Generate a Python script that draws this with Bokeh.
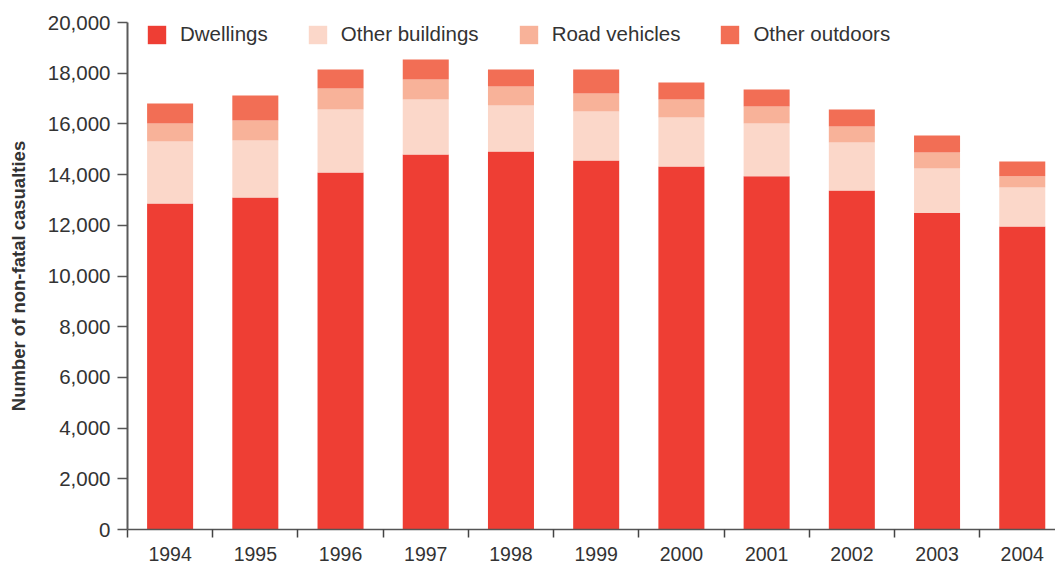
from bokeh.plotting import figure
from bokeh.models import (ColumnDataSource, Range1d, LinearAxis, FixedTicker,
                          NumeralTickFormatter, Legend, LegendItem)
from bokeh.embed import file_html
from bokeh.resources import INLINE

years = ["1994", "1995", "1996", "1997", "1998", "1999", "2000", "2001", "2002", "2003", "2004"]
dwellings = [12860, 13100, 14080, 14790, 14910, 14560, 14320, 13930, 13370, 12500, 11950]
other_buildings = [2450, 2250, 2490, 2170, 1820, 1930, 1930, 2090, 1900, 1740, 1540]
road_vehicles = [710, 780, 830, 790, 750, 710, 710, 670, 630, 630, 440]
other_outdoors = [780, 990, 750, 790, 670, 950, 670, 670, 670, 670, 590]

series = ["dwellings", "other_buildings", "road_vehicles", "other_outdoors"]
labels = ["Dwellings", "Other buildings", "Road vehicles", "Other outdoors"]
colors = ["#EE3E34", "#FBD7C9", "#F8B299", "#F26E55"]

centers = [i + 0.5 for i in range(len(years))]
source = ColumnDataSource(dict(x=centers, dwellings=dwellings, other_buildings=other_buildings,
                               road_vehicles=road_vehicles, other_outdoors=other_outdoors))

FONT = "Liberation Sans"
TXT = "#333333"

p = figure(width=1055, height=563, output_backend="svg", toolbar_location=None,
           x_range=Range1d(0, 10.89), y_range=Range1d(0, 20000),
           x_axis_type=None, y_axis_type=None,
           min_border_left=127, min_border_top=22, min_border_right=0, min_border_bottom=32)
p.outline_line_color = None
p.xgrid.visible = False
p.ygrid.visible = False

renderers = p.vbar_stack(series, x="x", width=0.54, source=source, color=colors,
                         line_color=None, line_width=0)

# y axis
yaxis = LinearAxis(ticker=FixedTicker(ticks=list(range(0, 20001, 2000)), minor_ticks=[]),
                   formatter=NumeralTickFormatter(format="0,0"))
yaxis.axis_label = "Number of non-fatal casualties"
yaxis.axis_label_text_font = FONT
yaxis.axis_label_text_font_style = "bold"
yaxis.axis_label_text_font_size = "18.5px"
yaxis.axis_label_text_color = TXT
yaxis.axis_label_standoff = 16
yaxis.major_label_text_font = FONT
yaxis.major_label_text_font_size = "20.5px"
yaxis.major_label_text_color = TXT
yaxis.major_label_standoff = 7
yaxis.major_tick_out = 10
yaxis.major_tick_in = 0
yaxis.major_tick_line_color = "#555555"
yaxis.major_tick_line_width = 1.5
yaxis.axis_line_color = "#5a5a5a"
yaxis.axis_line_width = 2
p.add_layout(yaxis, "left")

# x axis: labels at centres, tick marks at category boundaries
boundaries = list(range(0, len(years) + 1))
xaxis = LinearAxis(ticker=FixedTicker(ticks=centers, minor_ticks=boundaries))
xaxis.major_label_overrides = {c: y for c, y in zip(centers, years)}
xaxis.major_label_text_font = FONT
xaxis.major_label_text_font_size = "19.5px"
xaxis.major_label_text_color = TXT
xaxis.major_label_standoff = 9
xaxis.major_tick_out = 0
xaxis.major_tick_in = 0
xaxis.minor_tick_out = 8
xaxis.minor_tick_in = 0
xaxis.minor_tick_line_color = "#444444"
xaxis.minor_tick_line_width = 1.5
xaxis.axis_line_color = "#555555"
xaxis.axis_line_width = 1.5
p.add_layout(xaxis, "below")

legend = Legend(items=[LegendItem(label=l, renderers=[r]) for l, r in zip(labels, renderers)],
                orientation="horizontal", location=(18, 483))
legend.padding = 0
legend.margin = 0
legend.spacing = 38
legend.glyph_width = 23
legend.glyph_height = 23
legend.label_height = 23
legend.label_standoff = 12
legend.label_text_font = FONT
legend.label_text_font_size = "20.5px"
legend.label_text_color = TXT
legend.border_line_color = None
legend.background_fill_alpha = 0
p.add_layout(legend, "center")

open("out.html", "w").write(file_html(p, INLINE))
